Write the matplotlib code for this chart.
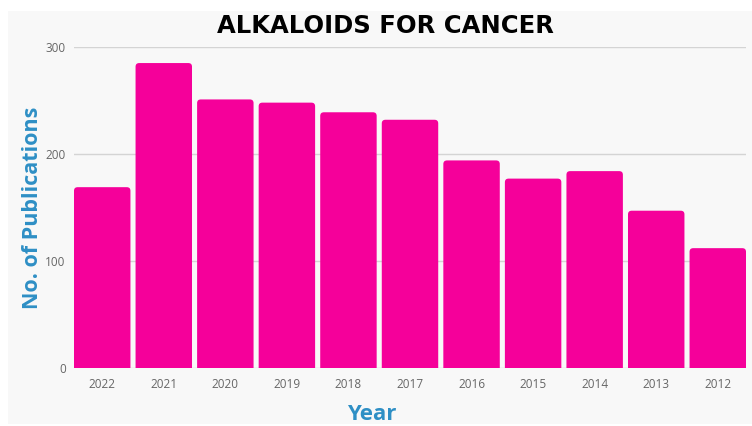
import matplotlib
matplotlib.use("Agg")
import matplotlib.pyplot as plt
from matplotlib.patches import Rectangle, FancyBboxPatch

years = ["2022", "2021", "2020", "2019", "2018", "2017", "2016", "2015", "2014", "2013", "2012"]
publications = [169, 285, 251, 248, 239, 232, 194, 177, 184, 147, 112]
yticks = [0, 100, 200, 300]

fig = plt.figure(figsize=(7.52, 4.26), dpi=100)
fig.patch.set_facecolor("white")
fig.patches.append(Rectangle((8/752, 2/426), 744/752, 413/426, transform=fig.transFigure,
                             facecolor="#f8f8f8", edgecolor="none", zorder=-5))

ax = fig.add_axes([74/752, 58/426, 672/752, 321/426])
ax.set_facecolor("none")
width = 0.917
x = list(range(len(years)))
bars = ax.bar(x, publications, width=width, color="#f5009a", zorder=3)
ax.set_xlim(-width/2, len(years) - 1 + width/2)
ax.set_ylim(0, 300)
# rounded top corners
for b in bars:
    b.set_visible(False)
    p = FancyBboxPatch((b.get_x(), -10), b.get_width(), b.get_height() + 10,
                       boxstyle="round,pad=0,rounding_size=0.06", mutation_aspect=56,
                       facecolor="#f5009a", edgecolor="none", zorder=3)
    ax.add_patch(p)
ax.set_yticks(yticks)
ax.set_xticks(x)
ax.set_xticklabels(years)
ax.grid(axis="y", color="#d4d4d4", linewidth=1, zorder=0)
for s in ax.spines.values():
    s.set_visible(False)
ax.tick_params(length=0, colors="#666666", labelsize=8.5)
ax.tick_params(axis="x", pad=7)
ax.tick_params(axis="y", pad=6)
for lbl in ax.get_xticklabels() + ax.get_yticklabels():
    lbl.set_family(["Open Sans", "DejaVu Sans"])

ax.set_ylabel("No. of Publications", color="#2e8fc5", fontsize=15.5, fontweight="bold",
              family=["Open Sans", "DejaVu Sans"])
ax.yaxis.set_label_coords(-41/672, 0.5)
ax.set_xlabel("Year", color="#2e8fc5", fontsize=16, fontweight="bold",
              family=["Open Sans", "DejaVu Sans"])
ax.xaxis.set_label_coords((372-74)/672, -46/321)
ax.xaxis.label.set_va("center")
ax.yaxis.label.set_va("center")

fig.text(385/752, 1 - 26/426, "ALKALOIDS FOR CANCER", ha="center", va="center",
         fontsize=17.5, fontweight="bold", family=["DejaVu Sans"], color="black")

fig.savefig("out.png", dpi=100, facecolor=fig.get_facecolor())
